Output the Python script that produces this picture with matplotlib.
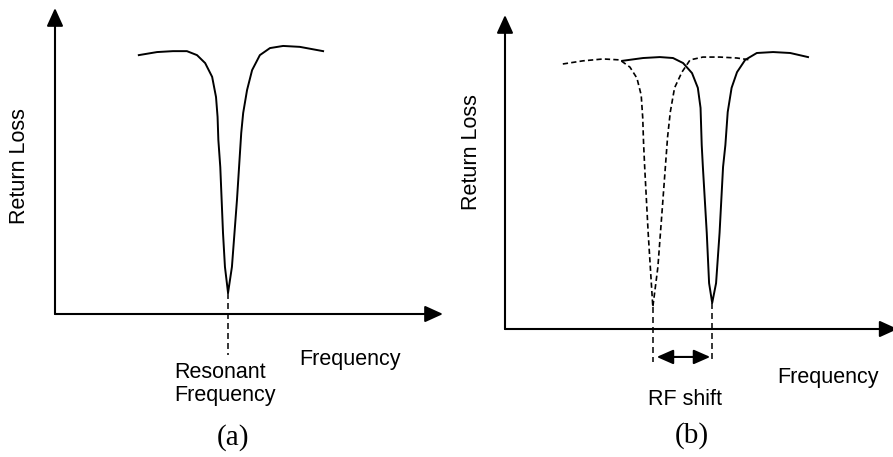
import numpy as np
import matplotlib
matplotlib.use("Agg")
import matplotlib.pyplot as plt

plt.rcParams['lines.scale_dashes'] = False

W, H = 893, 457

# Return-loss sketch, panel (a): single resonance
freq_a = [2.16, 2.63, 3.04, 3.40, 3.66, 3.87, 4.05, 4.15, 4.19, 4.21, 4.26, 4.33, 4.38, 4.46,
          4.56, 4.69, 4.80, 4.85, 4.95, 5.08, 5.28, 5.54, 5.88, 6.31, 6.91]
loss_a = [8.46, 8.56, 8.59, 8.59, 8.46, 8.20, 7.75, 7.09, 6.44, 5.69, 4.80, 2.65, 1.54, 0.69,
          1.54, 3.73, 5.92, 6.57, 7.32, 7.97, 8.46, 8.69, 8.76, 8.73, 8.59]

# Panel (b): original resonance (dashed) and shifted resonance (solid)
freq_b0 = [1.49, 2.01, 2.53, 2.96, 3.22, 3.40, 3.51, 3.55, 3.57, 3.60, 3.69, 3.81,
           3.94, 4.07, 4.19, 4.26, 4.37, 4.56, 4.77, 5.10, 5.54, 5.98, 6.31]
loss_b0 = [8.44, 8.54, 8.60, 8.57, 8.34, 7.99, 7.45, 6.72, 5.96, 5.16, 3.06, 0.70,
           1.97, 4.11, 6.11, 6.91, 7.68, 8.18, 8.57, 8.66, 8.66, 8.63, 8.57]
freq_b1 = [3.02, 3.56, 3.99, 4.33, 4.59, 4.82, 4.97, 5.04, 5.07, 5.10, 5.20, 5.26, 5.34,
           5.44, 5.53, 5.62, 5.68, 5.74, 5.84, 5.98, 6.19, 6.49, 6.91, 7.35, 7.81]
loss_b1 = [8.54, 8.63, 8.66, 8.63, 8.47, 8.15, 7.68, 7.04, 5.86, 5.16, 3.06, 1.46, 0.83,
           1.46, 3.06, 5.16, 5.86, 6.91, 7.68, 8.18, 8.57, 8.79, 8.82, 8.79, 8.66]


def px_axes(fig, x0, y0, x1, y1):
    # axes from a pixel box, y counted from the top of the figure
    ax = fig.add_axes([x0 / W, (H - y1) / H, (x1 - x0) / W, (y1 - y0) / H])
    ax.set_xlim(0, 10)
    ax.set_ylim(0, 10)
    ax.axis('off')
    return ax


def draw_axes_arrows(ax, xend=1.0):
    head = dict(arrowstyle='-|>,head_length=0.55,head_width=0.25', lw=1.5, color='k',
                mutation_scale=20, shrinkA=0, shrinkB=0)
    ax.annotate('', xy=(xend, 0), xytext=(0, 0), xycoords='axes fraction',
                arrowprops=head, annotation_clip=False)
    ax.annotate('', xy=(0, 1), xytext=(0, 0), xycoords='axes fraction',
                arrowprops=head, annotation_clip=False)


fig = plt.figure(figsize=(W / 100, H / 100), dpi=100)

sans = dict(family='Liberation Sans', fontsize=15.5, color='k')
serif = dict(family='Liberation Serif', fontsize=21, color='k')
dash_curve = (0, (3.8, 2.3))
dash_mark = (0, (4.3, 2.9))

# ---- (a)
ax1 = px_axes(fig, 55, 8, 443, 314)
draw_axes_arrows(ax1)
ax1.plot(freq_a, loss_a, color='k', lw=1.4, solid_joinstyle='round', clip_on=False)
f0 = freq_a[int(np.argmin(loss_a))]
ax1.plot([f0, f0], [min(loss_a), -1.34], color='k', lw=1.1, ls=dash_mark, clip_on=False)

fig.text(299 / W, 1 - 365 / H, 'Frequency', ha='left', va='baseline', **sans)
fig.text(174 / W, 1 - 378 / H, 'Resonant', ha='left', va='baseline', **sans)
fig.text(174 / W, 1 - 401 / H, 'Frequency', ha='left', va='baseline', **sans)
fig.text(20 / W, 1 - 166 / H, 'Return Loss', rotation=90, ha='center', va='center', **sans)
fig.text(233 / W, 1 - 438 / H, '(a)', ha='center', va='center', **serif)

# ---- (b)
ax2 = px_axes(fig, 505, 15, 893, 329)
draw_axes_arrows(ax2, xend=1.012)
ax2.plot(freq_b0, loss_b0, color='k', lw=1.2, ls=dash_curve, clip_on=False)
ax2.plot(freq_b1, loss_b1, color='k', lw=1.4, solid_joinstyle='round', clip_on=False)
fa = freq_b0[int(np.argmin(loss_b0))]
fb = freq_b1[int(np.argmin(loss_b1))]
ax2.plot([fa, fa], [min(loss_b0), -1.05], color='k', lw=1.1, ls=dash_mark, clip_on=False)
ax2.plot([fb, fb], [min(loss_b1), -1.05], color='k', lw=1.1, ls=dash_mark, clip_on=False)
ax2.annotate('', xy=(fb - 0.05, -0.89), xytext=(fa + 0.1, -0.89),
             arrowprops=dict(arrowstyle='<|-|>,head_length=0.5,head_width=0.22', lw=1.5,
                             color='k', mutation_scale=20, shrinkA=0, shrinkB=0),
             annotation_clip=False)

fig.text(777 / W, 1 - 383 / H, 'Frequency', ha='left', va='baseline', **sans)
fig.text(648 / W, 1 - 405 / H, 'RF shift', ha='left', va='baseline', **sans)
fig.text(472 / W, 1 - 152 / H, 'Return Loss', rotation=90, ha='center', va='center', **sans)
fig.text(692 / W, 1 - 436 / H, '(b)', ha='center', va='center', **serif)

fig.savefig('out.png', dpi=100, facecolor='white')
